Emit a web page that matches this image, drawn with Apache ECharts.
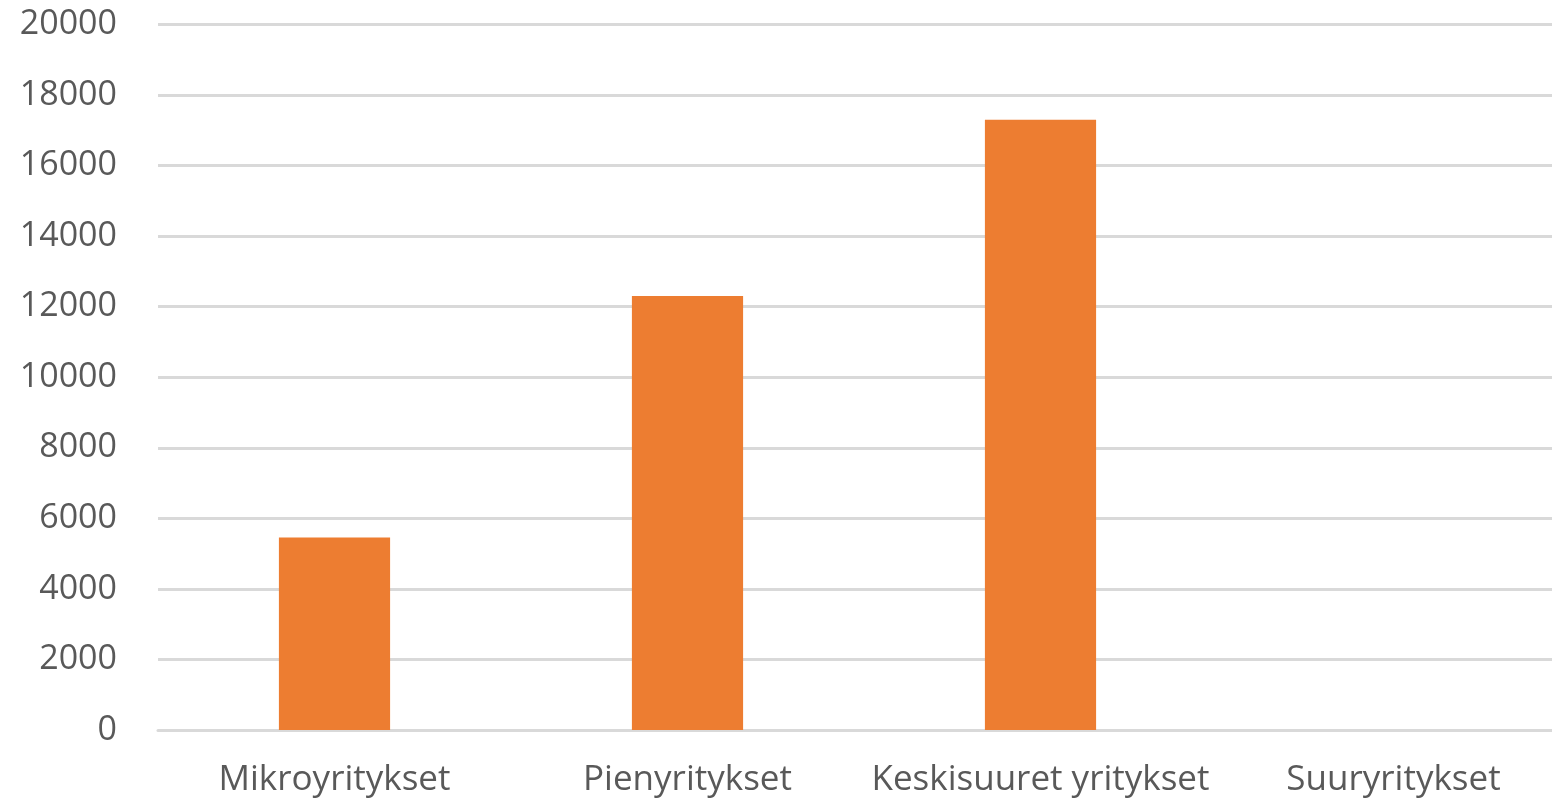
<!DOCTYPE html>
<html>
<head>
<meta charset="utf-8">
<script src="https://cdn.jsdelivr.net/npm/echarts@6/dist/echarts.min.js"></script>
<style>
html,body{margin:0;padding:0;background:#fff;}
#chart{width:1552px;height:803px;}
</style>
</head>
<body>
<div id="chart"></div>
<script>
const categories = ["Mikroyritykset", "Pienyritykset", "Keskisuuret yritykset", "Suuryritykset"];
const values = [5460, 12300, 17300, 0];
const yMin = 0, yMax = 20000, yStep = 2000;

const chart = echarts.init(document.getElementById('chart'));
chart.setOption({
  animation: false,
  grid: {left: 158, top: 24.5, width: 1412, bottom: 73, containLabel: false, outerBoundsMode: 'none'},
  xAxis: {
    type: 'category',
    data: categories,
    axisLine: {show: true, lineStyle: {color: '#D9D9D9', width: 3}},
    axisTick: {show: false},
    axisLabel: {margin: 33, interval: 0, color: '#595959', fontFamily: 'Open Sans', fontSize: 35}
  },
  yAxis: {
    type: 'value',
    min: yMin, max: yMax, interval: yStep,
    axisLine: {show: false},
    axisTick: {show: false},
    splitLine: {lineStyle: {color: '#D9D9D9', width: 3}},
    axisLabel: {margin: 41, color: '#595959', fontFamily: 'Open Sans', fontSize: 34,
      formatter: function (v) { return String(v); }}
  },
  series: [{
    type: 'bar',
    data: values,
    barWidth: '31.5%',
    itemStyle: {color: '#ED7D31'}
  }]
});
</script>
</body>
</html>
